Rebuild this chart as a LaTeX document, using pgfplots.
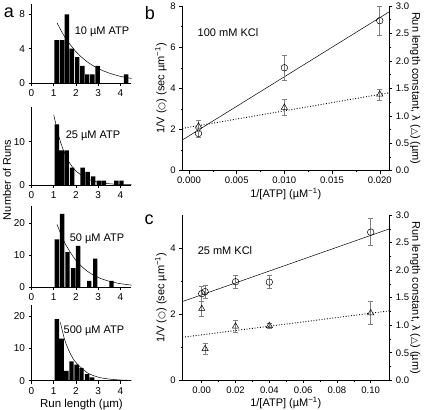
\documentclass[border=0pt]{standalone}
\usepackage{pgfplots}
\pgfplotsset{compat=1.18}
\usepackage{fontspec}
\setmainfont{Liberation Sans}
\newfontfamily\dejavu{DejaVu Sans}
\begin{document}
\begin{tikzpicture}[x=1pt,y=1pt]
\useasboundingbox (0,0) rectangle (424,410);
\pgfplotsset{
  every axis/.append style={
    scale only axis,
    anchor=south west,
    /pgf/number format/assume math mode=true,
    tick label style={font=\fontsize{9.5}{11}\selectfont},
    label style={font=\fontsize{11}{13}\selectfont},
    axis line style={-, line width=0.6pt},
    tick style={black, line width=0.5pt},
    major tick length=3pt, minor tick length=1.6pt,
    tick align=outside,
  },
  hist/.style={
    width=100pt, xmin=0, xmax=4.5, ymin=0,
    axis x line*=bottom, axis y line*=left,
    xtick={0,1,2,3,4},
    tick label style={font=\fontsize{10}{12}\selectfont},
    clip=false,
  },
  rlab/.style={ylabel style={at={(axis description cs:1.125,0.5)}, anchor=center, rotate=180}},
  bars/.style={ybar, bar width=0.2, bar shift=0pt, fill=black, draw=none},
  fit/.style={smooth, black, line width=0.5pt, no marks},
  dots/.style={black, line width=0.9pt, dash pattern=on 0.9pt off 1.8pt},
  errs/.style={error bars/.cd, y dir=both, y explicit,
    error bar style={gray, line width=0.6pt},
    error mark options={rotate=90, mark size=2.4pt, gray, line width=0.6pt}},
}
% ---------- panel a: 10 uM
\begin{axis}[hist, at={(31.5pt,327pt)}, height=79pt, ymax=9.2, ytick={0,4,8}]
\addplot[bars] coordinates {(1.13,5) (1.37,5) (1.59,8) (1.82,4) (2.06,3) (2.29,2) (2.51,1) (2.74,1) (2.98,2) (4.26,1)};
\addplot[fit] coordinates {(1.15,7.0) (1.5,5.35) (2.0,3.64) (2.5,2.48) (3.0,1.69) (3.5,1.15) (4.0,0.78) (4.5,0.53)};
\end{axis}
% ---------- 25 uM
\begin{axis}[hist, at={(31.5pt,225pt)}, height=78pt, ymax=18, ytick={0,10}]
\addplot[bars] coordinates {(1.14,14) (1.36,8) (1.58,8) (1.83,4) (2.30,4) (2.53,3) (2.77,2) (3.03,1) (3.26,1) (3.82,1) (4.05,1)};
\addplot[fit] coordinates {(1.0,16.2) (1.25,10.83) (1.5,7.23) (1.75,4.83) (2.0,3.23) (2.5,1.44) (3.0,0.64) (3.5,0.29) (4.0,0.13) (4.5,0.06)};
\end{axis}
% ---------- 50 uM
\begin{axis}[hist, at={(31.5pt,122.7pt)}, height=81pt, ymax=25.4, ytick={0,10,20}]
\addplot[bars] coordinates {(1.14,15) (1.38,23) (1.62,11) (1.87,6) (2.10,13) (2.60,2) (2.87,9) (3.60,2)};
\addplot[fit] coordinates {(1.15,19.7) (1.5,13.9) (2.0,8.42) (2.5,5.11) (3.0,3.10) (3.5,1.88) (4.0,1.14) (4.5,0.69)};
\end{axis}
% ---------- 500 uM
\begin{axis}[hist, at={(31.5pt,29.3pt)}, height=75.7pt, ymax=23.4, ytick={0,10,20},
  xlabel={Run length (µm)}, xlabel style={yshift=2pt, font=\fontsize{11.5}{13}\selectfont}]
\addplot[bars] coordinates {(1.14,19) (1.36,13) (1.57,3) (1.80,6) (2.03,5) (2.25,4) (2.50,2) (2.73,1)};
\addplot[fit] coordinates {(1.3,18.0) (1.5,12.5) (1.75,8.3) (2.0,5.6) (2.5,2.5) (3.0,1.1) (3.5,0.5) (4.0,0.22) (4.5,0.1)};
\end{axis}
% ---------- panel b, left axis
\begin{axis}[at={(182.3pt,239.3pt)}, width=207pt, height=164.7pt,
  xmin=-0.0007, xmax=0.021, ymin=0, ymax=8,
  axis x line*=bottom, axis y line*=left,
  xtick={0,0.005,0.01,0.015,0.02}, minor x tick num=1,
  ytick={0,2,4,6,8}, minor y tick num=1,
  scaled x ticks=false,
  xticklabel style={/pgf/number format/.cd, fixed, fixed zerofill, precision=3},
  xlabel={1/[ATP] (µM\textsuperscript{−1})},
  ylabel={1/V ({\dejavu\small ○}) (sec µm\textsuperscript{−1})},
  xlabel style={yshift=3pt}, ylabel style={yshift=-3pt},
  clip=false]
\addplot[black, line width=0.5pt] coordinates {(-0.0007,1.49) (0.021,7.72)};
\addplot[black, only marks, mark=o, mark size=3.3pt, mark options={fill=white, line width=0.5pt}, errs]
  coordinates {(0.001,1.81) +- (0,0.2) (0.01,5.0) +- (0,0.62) (0.02,7.29) +- (0,0.7)};
\end{axis}
% ---------- panel b, right axis
\begin{axis}[at={(182.3pt,239.3pt)}, width=207pt, height=164.7pt,
  xmin=-0.0007, xmax=0.021, ymin=0, ymax=3,
  axis x line=none, axis y line*=right,
  ytick={0,0.5,1,1.5,2,2.5,3}, minor y tick num=1,
  yticklabel style={/pgf/number format/.cd, fixed, fixed zerofill, precision=1},
  ylabel={Run length constant, λ ({\dejavu\small △}) (µm)}, rlab,
  clip=false]
\addplot[dots] coordinates {(-0.0007,0.77) (0.021,1.42)};
\addplot[black, only marks, mark=triangle, mark size=3.6pt, mark options={fill=white, line width=0.5pt, solid}, errs]
  coordinates {(0.001,0.81) +- (0,0.1) (0.01,1.15) +- (0,0.15) (0.02,1.39) +- (0,0.1)};
\end{axis}
% ---------- panel c, left axis
\begin{axis}[at={(182.3pt,29.7pt)}, width=207pt, height=165.3pt,
  xmin=-0.0115, xmax=0.111, ymin=0, ymax=5,
  axis x line*=bottom, axis y line*=left,
  xtick={0,0.02,0.04,0.06,0.08,0.1}, minor x tick num=1,
  ytick={0,2,4}, minor y tick num=1,
  scaled x ticks=false,
  xticklabel style={/pgf/number format/.cd, fixed, fixed zerofill, precision=2},
  xlabel={1/[ATP] (µM\textsuperscript{−1})},
  ylabel={1/V ({\dejavu\small ○}) (sec µm\textsuperscript{−1})},
  xlabel style={yshift=3pt}, ylabel style={yshift=-3pt},
  clip=false]
\addplot[black, line width=0.5pt] coordinates {(-0.0115,2.38) (0.111,4.58)};
\addplot[black, only marks, mark=o, mark size=3.3pt, mark options={fill=white, line width=0.5pt}, errs]
  coordinates {(0.0,2.62) +- (0,0.22) (0.002,2.68) +- (0,0.2) (0.02,2.98) +- (0,0.21) (0.04,2.97) +- (0,0.2) (0.1,4.48) +- (0,0.41)};
\end{axis}
% ---------- panel c, right axis
\begin{axis}[at={(182.3pt,29.7pt)}, width=207pt, height=165.3pt,
  xmin=-0.0115, xmax=0.111, ymin=0, ymax=3,
  axis x line=none, axis y line*=right,
  ytick={0,0.5,1,1.5,2,2.5,3}, minor y tick num=1,
  yticklabel style={/pgf/number format/.cd, fixed, fixed zerofill, precision=1},
  ylabel={Run length constant, λ ({\dejavu\small △}) (µm)}, rlab,
  clip=false]
\addplot[dots] coordinates {(-0.0115,0.78) (0.111,1.26)};
\addplot[black, only marks, mark=triangle, mark size=3.6pt, mark options={fill=white, line width=0.5pt, solid}, errs]
  coordinates {(0.0,1.30) +- (0,0.14) (0.002,0.57) +- (0,0.1) (0.02,0.98) +- (0,0.11) (0.04,0.99) +- (0,0.05) (0.1,1.22) +- (0,0.21)};
\end{axis}
% ---------- texts
\node[font=\fontsize{11}{13}\selectfont] at (102,378) {10 µM ATP};
\node[font=\fontsize{11}{13}\selectfont] at (93,274) {25 µM ATP};
\node[font=\fontsize{11}{13}\selectfont] at (97,171) {50 µM ATP};
\node[font=\fontsize{11}{13}\selectfont] at (94,79) {500 µM ATP};
\node[font=\fontsize{11}{13}\selectfont, rotate=90] at (7,230) {Number of Runs};
\node[font=\fontsize{11}{13}\selectfont] at (228,377) {100 mM KCl};
\node[font=\fontsize{11}{13}\selectfont] at (225,159) {25 mM KCl};
\node[font=\fontsize{18}{20}\selectfont] at (9,397) {a};
\node[font=\fontsize{18}{20}\selectfont] at (150,397) {b};
\node[font=\fontsize{18}{20}\selectfont] at (149,190) {c};
\end{tikzpicture}
\end{document}
